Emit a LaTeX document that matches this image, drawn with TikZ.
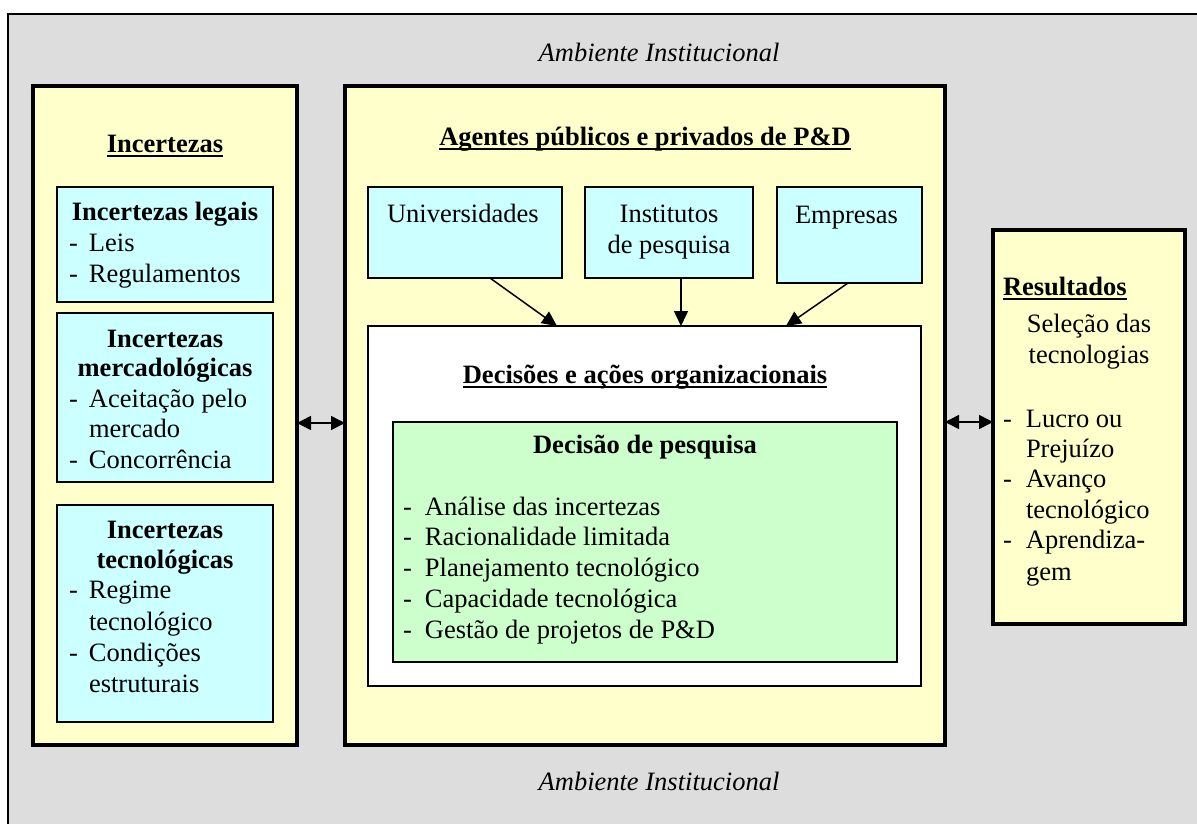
\documentclass[tikz,border=0pt]{standalone}
\usepackage{fontspec}
\setmainfont{Liberation Serif}
\usetikzlibrary{arrows.meta,calc}
\definecolor{bggray}{HTML}{DDDDDD}
\definecolor{ylw}{HTML}{FFFFCC}
\definecolor{cyn}{HTML}{CCFFFF}
\definecolor{grn}{HTML}{CCFFCC}
\newcommand{\fsz}{\fontsize{26.5}{30.5}\selectfont}
\newcommand{\dsh}[1]{\makebox[#1pt][l]{-}}
\begin{document}
\begin{tikzpicture}[x=1pt,y=-1pt,
  panel/.style={draw=black, line width=3.5pt, fill=ylw, inner sep=0pt, outer sep=0pt, anchor=north west},
  cbox/.style={draw=black, line width=2pt, fill=cyn, inner sep=0pt, outer sep=0pt, anchor=north west},
  wbox/.style={draw=black, line width=2pt, fill=white, inner sep=0pt, outer sep=0pt, anchor=north west},
  gbox/.style={draw=black, line width=2pt, fill=grn, inner sep=0pt, outer sep=0pt, anchor=north west},
  txt/.style={font=\fsz, inner sep=0pt, outer sep=0pt, anchor=base west},
  ctxt/.style={font=\fsz, inner sep=0pt, outer sep=0pt, anchor=base},
  bctxt/.style={font=\fsz\bfseries, inner sep=0pt, outer sep=0pt, anchor=base},
  btxt/.style={font=\fsz\bfseries, inner sep=0pt, outer sep=0pt, anchor=base west},
  ictxt/.style={font=\fsz\itshape, inner sep=0pt, outer sep=0pt, anchor=base},
  arr/.style={line width=1.5pt, -{Triangle[length=15pt,width=14pt]}},
  dbl/.style={line width=1.5pt, {Triangle[length=14pt,width=14pt]}-{Triangle[length=14pt,width=14pt]}},
  ul/.style={line width=2pt}
]
\useasboundingbox (0,0) rectangle (1197,823);
\clip (0,0) rectangle (1197,823);
\fill[white] (0,0) rectangle (1197,823);
\draw[line width=2pt, fill=bggray] (8,14) rectangle (1260,900);

% ambient labels
\node[ictxt] (amb1) at (659,61) {Ambiente Institucional};
\node[ictxt] (amb2) at (659,790) {Ambiente Institucional};

% panels
\node[panel, minimum width=264pt, minimum height=659pt] (lbox) at (33,86) {};
\node[panel, minimum width=600pt, minimum height=659pt] (mbox) at (345,86) {};
\node[panel, minimum width=192pt, minimum height=394pt] (rbox) at (993,230) {};

% left panel
\node[bctxt] (tInc) at (165,152) {Incertezas};
\draw[ul] ([yshift=-4pt]tInc.base west) -- ([yshift=-4pt]tInc.base east);

\node[cbox, minimum width=216pt, minimum height=115pt] (leg) at (57,187) {};
\node[bctxt] (leg1) at (165,220) {Incertezas legais};
\node[txt] (leg2) at (69,251) {\dsh{20}Leis};
\node[txt] (leg3) at (69,282) {\dsh{20}Regulamentos};

\node[cbox, minimum width=216pt, minimum height=169pt] (mer) at (57,313) {};
\node[bctxt] (mer1) at (165,347) {Incertezas};
\node[bctxt] (mer2) at (165,376) {mercadológicas};
\node[txt] (mer3) at (69,407) {\dsh{20}Aceitação pelo};
\node[txt] (mer4) at (89,437) {mercado};
\node[txt] (mer5) at (69,468) {\dsh{20}Concorrência};

\node[cbox, minimum width=216pt, minimum height=217pt] (tec) at (57,505) {};
\node[bctxt] (tec1) at (165,538) {Incertezas};
\node[bctxt] (tec2) at (165,568) {tecnológicas};
\node[txt] (tec3) at (69,598) {\dsh{20}Regime};
\node[txt] (tec4) at (89,630) {tecnológico};
\node[txt] (tec5) at (69,661) {\dsh{20}Condições};
\node[txt] (tec6) at (89,692) {estruturais};

% middle panel
\node[bctxt] (tAg) at (645,145) {Agentes públicos e privados de P\&D};
\draw[ul] ([yshift=-4pt]tAg.base west) -- ([yshift=-4pt]tAg.base east);

\node[cbox, minimum width=194pt, minimum height=91pt] (uni) at (368,187) {};
\node[txt] (uni1) at (387,222) {Universidades};
\node[cbox, minimum width=168pt, minimum height=91pt] (inst) at (585,187) {};
\node[ctxt] (inst1) at (669,222) {Institutos};
\node[ctxt] (inst2) at (669,253) {de pesquisa};
\node[cbox, minimum width=145pt, minimum height=96pt] (emp) at (777,187) {};
\node[txt] (emp1) at (795,223) {Empresas};

\node[wbox, minimum width=553pt, minimum height=360pt] (dec) at (368,326) {};
\node[bctxt] (tDec) at (645,383) {Decisões e ações organizacionais};
\draw[ul] ([yshift=-4pt]tDec.base west) -- ([yshift=-4pt]tDec.base east);

\node[gbox, minimum width=504pt, minimum height=240pt] (pes) at (393,422) {};
\node[bctxt] (pes0) at (645,453) {Decisão de pesquisa};
\node[txt] (pes1) at (403,515) {\dsh{22}Análise das incertezas};
\node[txt] (pes2) at (403,545) {\dsh{22}Racionalidade limitada};
\node[txt] (pes3) at (403,576) {\dsh{22}Planejamento tecnológico};
\node[txt] (pes4) at (403,607) {\dsh{22}Capacidade tecnológica};
\node[txt] (pes5) at (403,638) {\dsh{22}Gestão de projetos de P\&D};

% right panel
\node[btxt] (tRes) at (1003,295) {Resultados};
\draw[ul] ([yshift=-4pt]tRes.base west) -- ([yshift=-4pt]tRes.base east);
\node[ctxt] (res1) at (1089,332) {Seleção das};
\node[ctxt] (res2) at (1089,363) {tecnologias};
\node[txt] (res3) at (1003,427) {\dsh{23}Lucro ou};
\node[txt] (res4) at (1026,457) {Prejuízo};
\node[txt] (res5) at (1003,487) {\dsh{23}Avanço};
\node[txt] (res6) at (1026,518) {tecnológico};
\node[txt] (res7) at (1003,548) {\dsh{23}Aprendiza-};
\node[txt] (res8) at (1026,580) {gem};

% connectors
\draw[arr] (uni.south -| 490,0) -- (dec.north -| 557,0);
\draw[arr] (inst.south -| 681,0) -- (dec.north -| 681,0);
\draw[arr] (emp.south -| 848,0) -- (dec.north -| 786,0);
\draw[dbl] (lbox.east |- 0,423) -- (mbox.west |- 0,423);
\draw[dbl] (mbox.east |- 0,422) -- (rbox.west |- 0,422);
\end{tikzpicture}
\end{document}
